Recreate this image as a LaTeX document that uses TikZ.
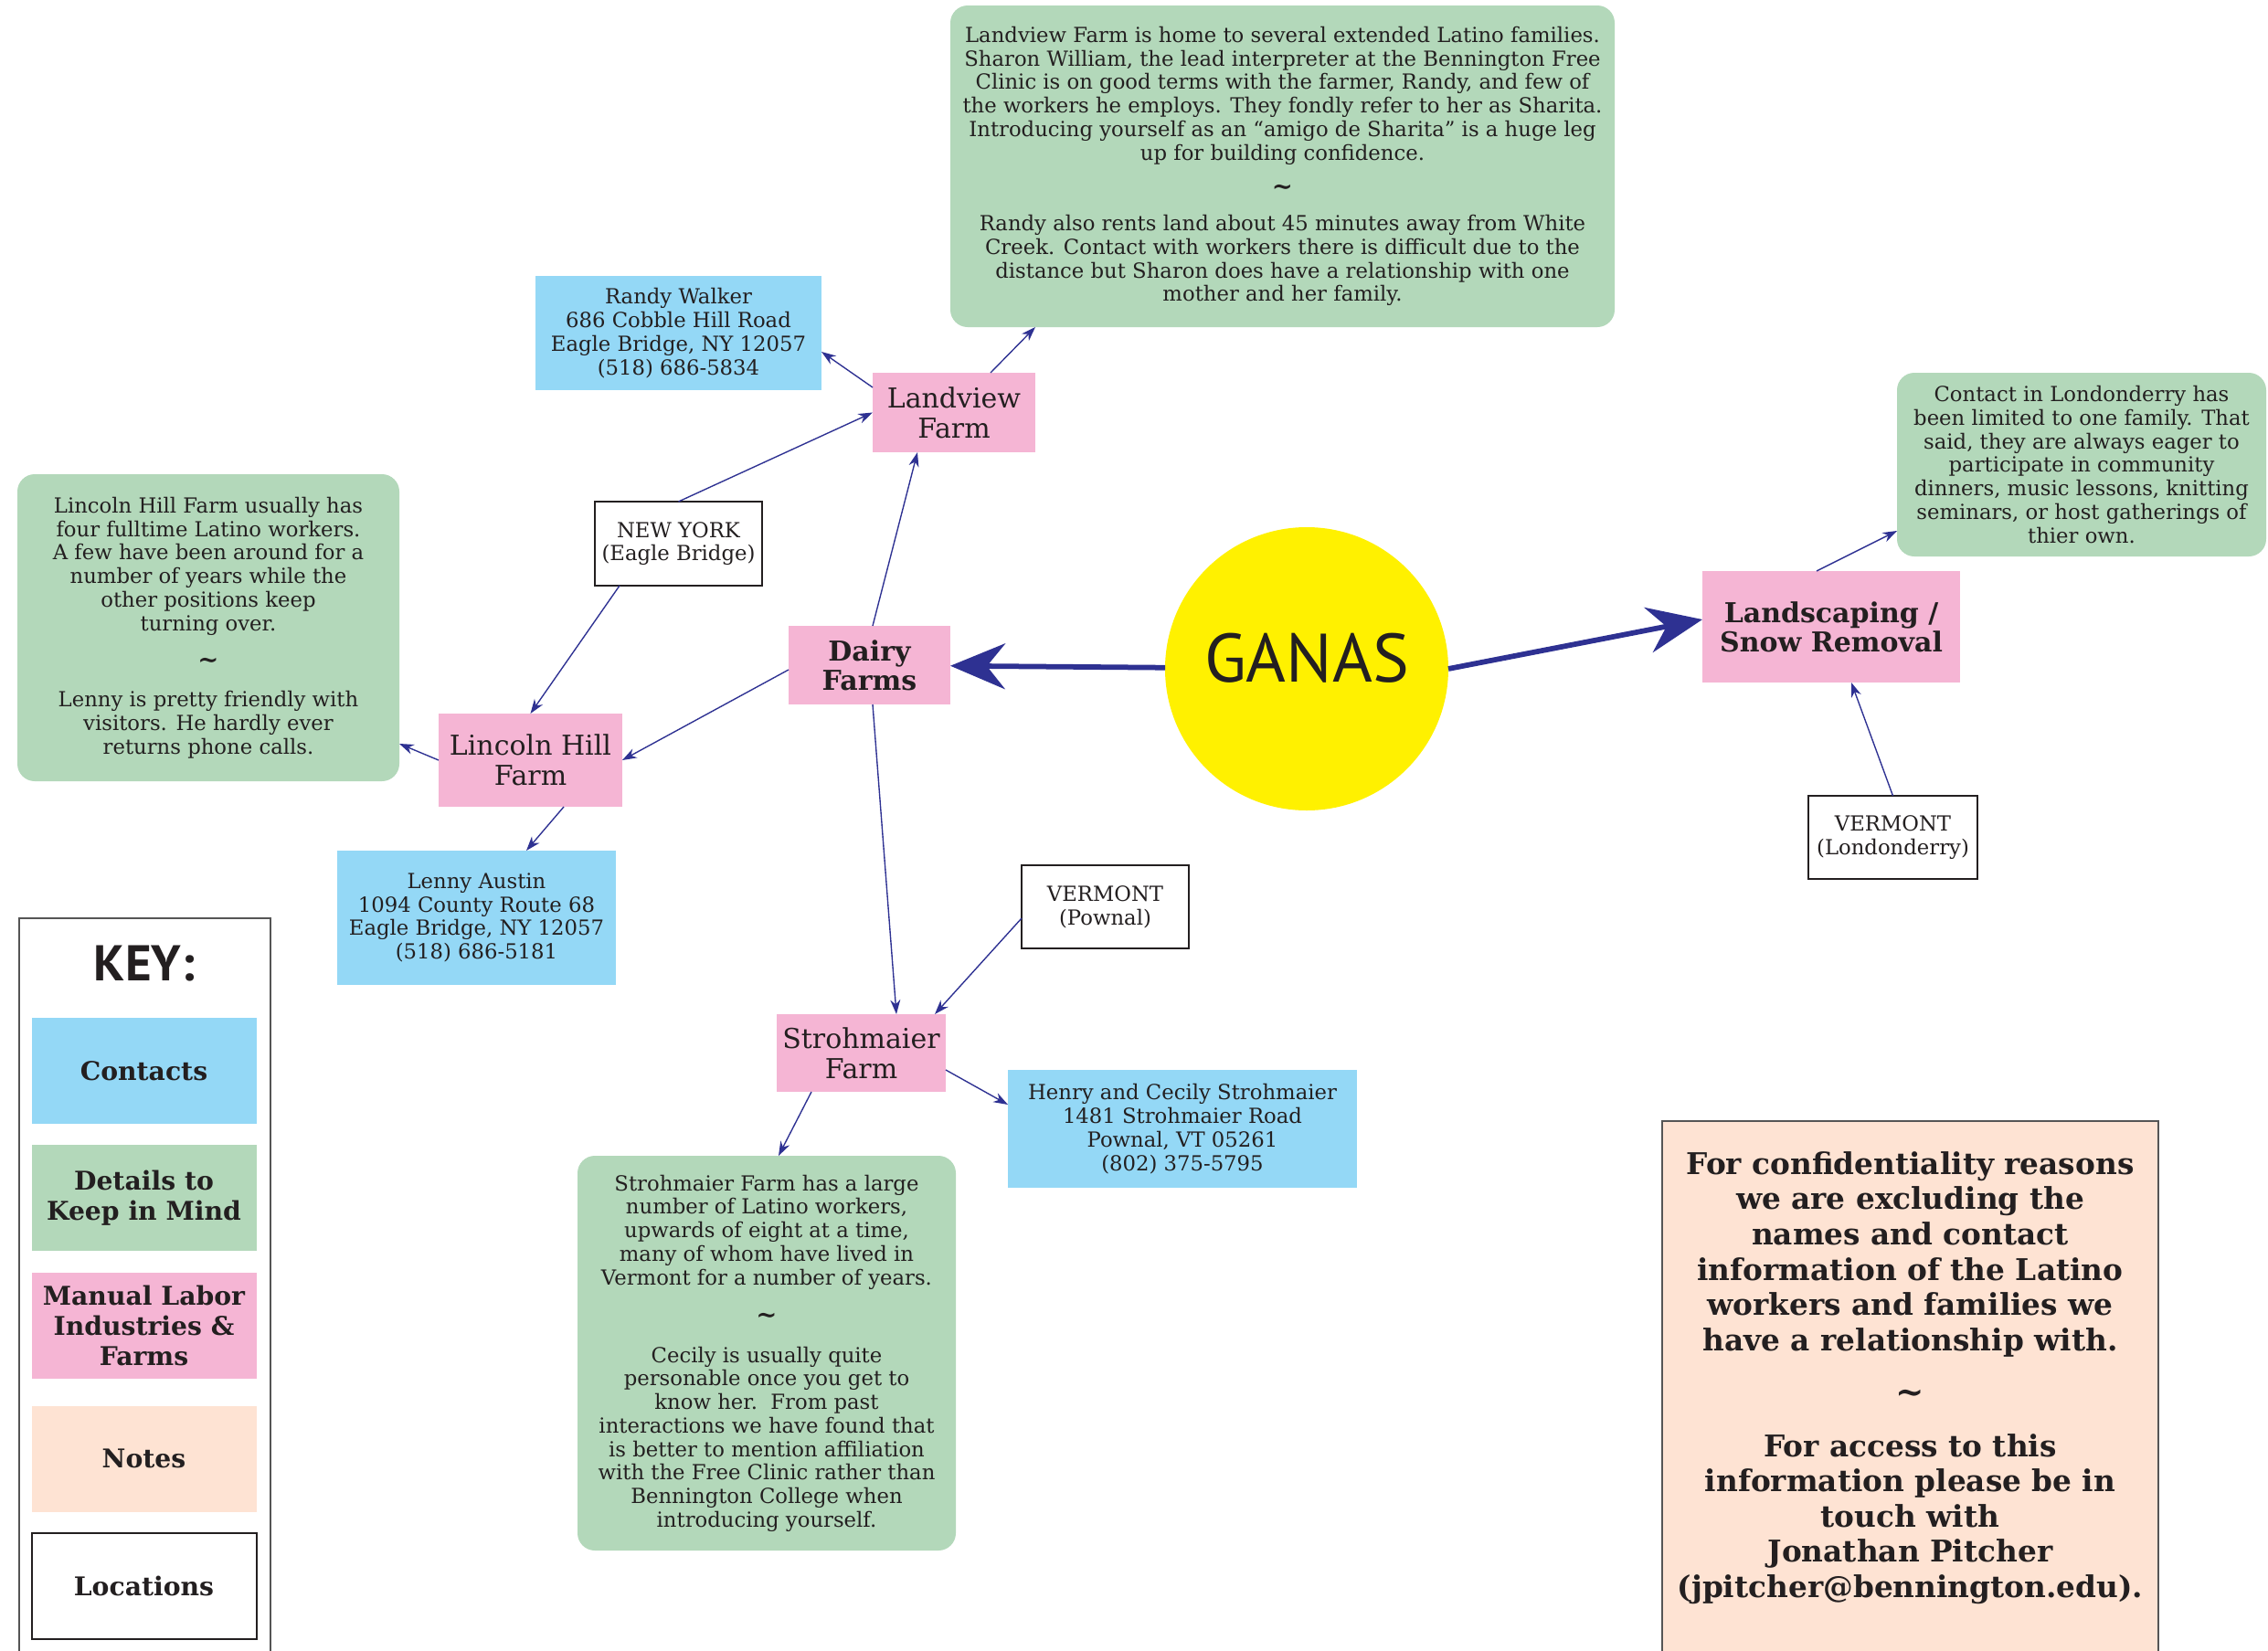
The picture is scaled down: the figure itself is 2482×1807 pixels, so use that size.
\documentclass[tikz,border=0pt]{standalone}
\usepackage{fontspec}
\setmainfont{DejaVu Serif}
\newfontfamily\ganasfont{PT Sans}
\usetikzlibrary{arrows.meta,calc}

\definecolor{contactblue}{HTML}{94D8F6}
\definecolor{detailgreen}{HTML}{B3D8BA}
\definecolor{farmpink}{HTML}{F5B5D4}
\definecolor{notepeach}{HTML}{FEE3D3}
\definecolor{ganasyellow}{HTML}{FFF100}
\definecolor{linkblue}{HTML}{2E3192}
\definecolor{ink}{HTML}{231F20}
\definecolor{framegray}{HTML}{555555}

\newcommand\tildesep{{\bfseries\fontsize{11}{10}\selectfont\textasciitilde}}

\begin{document}
\begin{tikzpicture}[x=0.4pt,y=-0.4pt,
  sz/.style 2 args={minimum width=#1*0.4pt, minimum height=#2*0.4pt},
  base/.style={inner sep=0pt, outer sep=0pt, align=center, text=ink},
  small/.style={font=\fontsize{9.1}{10.3}\selectfont},
  contact/.style={base, small, fill=contactblue},
  detail/.style={base, small, fill=detailgreen, rounded corners=7.6pt},
  farm/.style={base, fill=farmpink, font=\fontsize{12}{13.3}\selectfont},
  sector/.style={base, fill=farmpink, font=\bfseries\fontsize{12}{12.8}\selectfont},
  place/.style={base, small, fill=white, draw=ink, line width=0.8pt},
  keyitem/.style={base, sz={246}{116}, font=\bfseries\fontsize{11.3}{13.3}\selectfont},
  link/.style={draw=linkblue, line width=0.55pt, -{Stealth[length=6.3pt,width=4.4pt,inset=2pt]}},
  mainlink/.style={draw=linkblue, line width=2.3pt, -{Stealth[length=24pt,width=20pt,inset=8pt]}}
]
\useasboundingbox (0,0) rectangle (2482,1807);
\clip (0,0) rectangle (2482,1807);
\fill[white] (0,0) rectangle (2482,1807);

% ---- central hub ----
\node[circle, fill=ganasyellow, minimum size=310*0.4pt, inner sep=0pt, outer sep=0pt,
      text=ink, text depth=9.6pt, font=\ganasfont\fontsize{30}{30}\selectfont] (ganas) at (1430,732) {GANAS};

% ---- industries and farms ----
\node[sector, sz={177}{86}] (dairy) at (951.5,728) {Dairy\\Farms};
\node[sector, sz={282}{122}] (landscaping) at (2004,686) {Landscaping /\\Snow Removal};
\node[farm, sz={178}{87}] (landview) at (1044,451.5) {Landview\\Farm};
\node[farm, sz={201}{102}] (lincoln) at (580.5,832) {Lincoln Hill\\Farm};
\node[farm, sz={185}{85}] (stroh) at (942.5,1152.5) {Strohmaier\\Farm};

% ---- locations ----
\node[place, sz={183}{92}] (ny) at (742.5,595) {NEW YORK\\(Eagle Bridge)};
\node[place, sz={183}{91}] (vtpownal) at (1209.5,992.5) {VERMONT\\(Pownal)};
\node[place, sz={185}{91}] (vtlond) at (2071.5,916.5) {VERMONT\\(Londonderry)};

% ---- contacts ----
\node[contact, sz={313}{125}] (randy) at (742.5,364.5)
  {Randy Walker\\686 Cobble Hill Road\\Eagle Bridge, NY 12057\\(518) 686-5834};
\node[contact, sz={305}{147}] (lenny) at (521.5,1004.5)
  {Lenny Austin\\1094 County Route 68\\Eagle Bridge, NY 12057\\(518) 686-5181};
\node[contact, sz={382}{129}] (henry) at (1294,1235.5)
  {Henry and Cecily Strohmaier\\1481 Strohmaier Road\\Pownal, VT 05261\\(802) 375-5795};

% ---- details to keep in mind ----
\node[detail, sz={727}{352}] (lvnote) at (1403.5,182)
  {Landview Farm is home to several extended Latino families.\\
   Sharon William, the lead interpreter at the Bennington Free\\
   Clinic is on good terms with the farmer, Randy, and few of\\
   the workers he employs. They fondly refer to her as Sharita.\\
   Introducing yourself as an “amigo de Sharita” is a huge leg\\
   up for building confidence.\\[5.2pt]
   \tildesep\\[5.2pt]
   Randy also rents land about 45 minutes away from White\\
   Creek. Contact with workers there is difficult due to the\\
   distance but Sharon does have a relationship with one\\
   mother and her family.};
\node[detail, sz={418}{336}] (lhnote) at (228,687)
  {Lincoln Hill Farm usually has\\
   four fulltime Latino workers.\\
   A few have been around for a\\
   number of years while the\\
   other positions keep\\
   turning over.\\[6.4pt]
   \tildesep\\[6.4pt]
   Lenny is pretty friendly with\\
   visitors. He hardly ever\\
   returns phone calls.};
\node[detail, sz={404}{201}] (londnote) at (2278,508.5)
  {Contact in Londonderry has\\
   been limited to one family. That\\
   said, they are always eager to\\
   participate in community\\
   dinners, music lessons, knitting\\
   seminars, or host gatherings of\\
   thier own.};
\node[detail, sz={414}{432}] (strohnote) at (839,1481)
  {Strohmaier Farm has a large\\
   number of Latino workers,\\
   upwards of eight at a time,\\
   many of whom have lived in\\
   Vermont for a number of years.\\[6.7pt]
   \tildesep\\[6.7pt]
   Cecily is usually quite\\
   personable once you get to\\
   know her.\ \ From past\\
   interactions we have found that\\
   is better to mention affiliation\\
   with the Free Clinic rather than\\
   Bennington College when\\
   introducing yourself.};

% ---- notes panel ----
\node[base, fill=notepeach, draw=framegray, line width=0.6pt, sz={543}{640}, anchor=north west] (notes) at (1819,1227) {};
\node[base, font=\bfseries\fontsize{13.1}{15.45}\selectfont] (notestext) at (2090.5,1508)
  {For confidentiality reasons\\
   we are excluding the\\
   names and contact\\
   information of the Latino\\
   workers and families we\\
   have a relationship with.\\[7.7pt]
   {\fontsize{15}{10}\selectfont\textasciitilde}\\[7.7pt]
   For access to this\\
   information please be in\\
   touch with\\
   Jonathan Pitcher\\
   (jpitcher@bennington.edu).};

% ---- key ----
\node[base, draw=framegray, line width=0.6pt, sz={275}{860}, anchor=north west] (keyframe) at (21,1005) {};
\node[base, font=\ganasfont\bfseries\fontsize{22}{22}\selectfont] (keytitle) at (158,1055) {KEY:};
\node[keyitem, fill=contactblue] (keycontacts) at (157.5,1172) {Contacts};
\node[keyitem, fill=detailgreen] (keydetails) at (157.5,1311) {Details to\\Keep in Mind};
\node[keyitem, fill=farmpink] (keyfarms) at (157.5,1451) {Manual Labor\\Industries \&\\Farms};
\node[keyitem, fill=notepeach] (keynotes) at (157.5,1596.5) {Notes};
\node[keyitem, fill=white, draw=ink, line width=0.8pt] (keyplaces) at (157.5,1736) {Locations};

% ---- connectors ----
\draw[mainlink] (ganas) -- (dairy);
\draw[mainlink] (ganas.east) -- ($(landscaping.west)+(0,-8)$);
\draw[link] ($(dairy.north)+(3.5,0)$) -- ($(landview.south)+(-40,0)$);
\draw[link] ($(dairy.west)+(0,5)$) -- (lincoln.east);
\draw[link] ($(dairy.south)+(3.5,0)$) -- ($(stroh.north)+(38.5,0)$);
\draw[link] (ny.north) -- (landview.west);
\draw[link] ($(ny.south)+(-64.5,0)$) -- (lincoln.north);
\draw[link] ($(landview.west)+(0,-27.5)$) -- ($(randy.east)+(0,20.5)$);
\draw[link] ($(landview.north)+(40,0)$) -- ($(lvnote.south)+(-270.5,0)$);
\draw[link] (lincoln.west) -- ($(lhnote.east)+(0,127)$);
\draw[link] ($(lincoln.south)+(36.5,0)$) -- ($(lenny.north)+(54.5,0)$);
\draw[link] ($(vtpownal.west)+(0,12.5)$) -- ($(stroh.north)+(80.5,0)$);
\draw[link] ($(stroh.east)+(0,18.5)$) -- ($(henry.west)+(0,-26.5)$);
\draw[link] ($(stroh.south)+(-54.5,0)$) -- ($(strohnote.north)+(13,0)$);
\draw[link] ($(landscaping.north)+(-16,0)$) -- ($(londnote.west)+(0,72.5)$);
\draw[link] (vtlond.north) -- ($(landscaping.south)+(22,0)$);
\end{tikzpicture}
\end{document}
